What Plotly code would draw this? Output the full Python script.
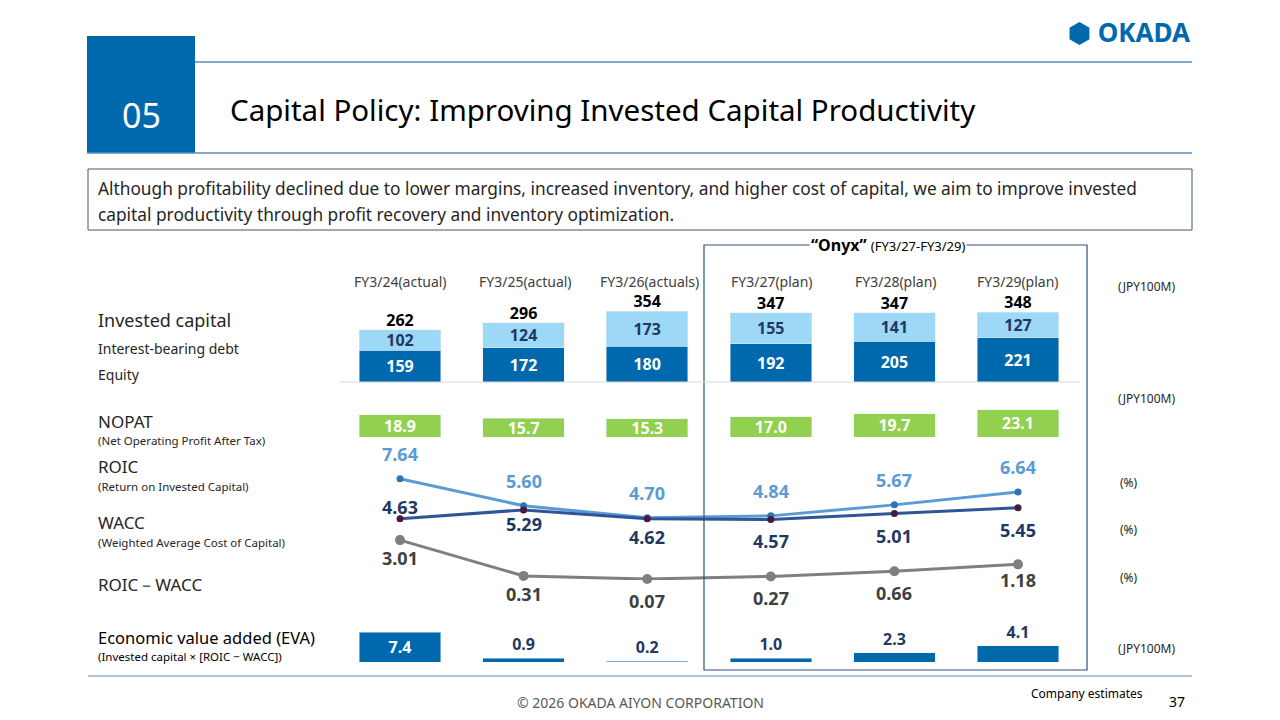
import plotly.graph_objects as go

years = ["FY3/24(actual)", "FY3/25(actual)", "FY3/26(actuals)", "FY3/27(plan)", "FY3/28(plan)", "FY3/29(plan)"]
equity = [159, 172, 180, 192, 205, 221]
debt = [102, 124, 173, 155, 141, 127]
invested = [262, 296, 354, 347, 347, 348]
nopat = [18.9, 15.7, 15.3, 17.0, 19.7, 23.1]
roic = [7.64, 5.60, 4.70, 4.84, 5.67, 6.64]
wacc = [4.63, 5.29, 4.62, 4.57, 5.01, 5.45]
spread = [3.01, 0.31, 0.07, 0.27, 0.66, 1.18]
eva = [7.4, 0.9, 0.2, 1.0, 2.3, 4.1]

W, H = 1280, 720
OFF = 8
FONT = "Noto Sans"
NAVY = "#1f3864"
BLUE = "#0068ad"
LIGHT = "#9dd9f7"
GREEN = "#92d050"
x = list(range(6))

def py(p):
    return 1 - (p - OFF) / H
def px(p):
    return (p - OFF) / W

fig = go.Figure()
bf = dict(size=16, family=FONT, weight="bold")
fig.add_bar(x=x, y=equity, marker_color=BLUE, width=0.66, text=[str(v) for v in equity],
            textposition="inside", insidetextanchor="middle", constraintext="none",
            textfont=dict(bf, color="white"), yaxis="y")
fig.add_bar(x=x, y=debt, marker_color=LIGHT, width=0.66, text=[str(v) for v in debt],
            textposition="inside", insidetextanchor="middle", constraintext="none",
            textfont=dict(bf, color=NAVY), yaxis="y")
fig.add_scatter(x=x, y=invested, mode="text", text=[str(v) for v in invested], textposition="top center",
                textfont=dict(bf, color="black"), yaxis="y", cliponaxis=False)
fig.add_bar(x=x, y=nopat, base=-7.2, marker_color=GREEN, width=0.66, text=[f"{v:.1f}" for v in nopat],
            textposition="inside", insidetextanchor="middle", constraintext="none",
            textfont=dict(bf, color="white"), yaxis="y2")
fig.add_scatter(x=x, y=spread, mode="lines+markers", line=dict(color="#7f7f7f", width=3),
                marker=dict(size=10, color="#7f7f7f"), yaxis="y3", cliponaxis=False)
fig.add_scatter(x=x, y=roic, mode="lines+markers", line=dict(color="#5b9bd5", width=3),
                marker=dict(size=7, color="#2e75b6"), yaxis="y3", cliponaxis=False)
fig.add_scatter(x=x, y=wacc, mode="lines+markers", line=dict(color="#2f5597", width=3),
                marker=dict(size=7, color="#4a1942"), yaxis="y3", cliponaxis=False)
fig.add_bar(x=x, y=eva, marker_color=BLUE, width=0.66, text=[f"{v:.1f}" for v in eva],
            textposition=["inside"] + ["outside"] * 5, insidetextanchor="middle", constraintext="none",
            textfont=dict(bf, color=["white"] + [NAVY] * 5),
            yaxis="y4", cliponaxis=False)

ax = dict(visible=False, fixedrange=True)
U = 123.6
xr = [-(400 - OFF) / U, (W - (400 - OFF)) / U]
fig.update_layout(
    width=W, height=H, margin=dict(l=0, r=0, t=0, b=0), showlegend=False, barmode="stack",
    plot_bgcolor="white", paper_bgcolor="white", font=dict(family=FONT),
    xaxis=dict(visible=False, range=xr, domain=[0, 1]),
    yaxis=dict(ax, domain=[py(382), py(302)], range=[0, 400]),
    yaxis2=dict(ax, domain=[py(437), py(397)], range=[-7.2, -7.2 + 40 / 1.19]),
    yaxis3=dict(ax, domain=[py(580), py(474)], range=[0, 8]),
    yaxis4=dict(ax, domain=[py(662), py(630)], range=[0, 8]),
)

def S(**k):
    k.setdefault("xref", "paper"); k.setdefault("yref", "paper")
    return k
shapes = [
    S(type="rect", x0=px(87), x1=px(195), y0=py(153), y1=py(36), fillcolor=BLUE, line_width=0),
    S(type="line", x0=px(195), x1=px(1192), y0=py(62), y1=py(62), line=dict(color="#5b8db8", width=1.5)),
    S(type="line", x0=px(87), x1=px(1192), y0=py(153), y1=py(153), line=dict(color="#5b8db8", width=1.5)),
    S(type="rect", x0=px(88), x1=px(1192), y0=py(230), y1=py(169), line=dict(color="#44546a", width=1)),
    S(type="rect", x0=px(704), x1=px(1087), y0=py(670), y1=py(245), line=dict(color="#2f4f7f", width=1.2)),
    S(type="line", x0=px(88), x1=px(1192), y0=py(676), y1=py(676), line=dict(color="#5b8db8", width=1.2)),
    S(type="line", x0=px(340), x1=px(1080), y0=py(382), y1=py(382), line=dict(color="#d9d9d9", width=1)),
]
fig.update_layout(shapes=shapes)

ann = []
def L(vals, color, shifts):
    for i, (v, s) in enumerate(zip(vals, shifts)):
        ann.append(dict(text=f"<b>{v:.2f}</b>", x=i, y=v, xref="x", yref="y3", showarrow=False,
                        yshift=s, font=dict(size=18, color=color, family=FONT)))
L(roic, "#5b9bd5", [25, 25, 25, 25, 25, 25])
L(wacc, NAVY, [12, -14, -18, -22, -22, -22])
L(spread, "#404040", [-18, -18, -22, -22, -22, -16])

def A(t, xp, yp, size=14, color="#262626", xanchor="left", bg=None):
    ann.append(dict(text=t, x=px(xp), y=py(yp), xref="paper", yref="paper", showarrow=False,
                    xanchor=xanchor, yanchor="middle", bgcolor=bg,
                    font=dict(size=size, color=color, family=FONT)))
A("05", 141, 115, 34, "white", "center")
A("Capital Policy: Improving Invested Capital Productivity", 228, 110, 29.5, "black")
A("Although profitability declined due to lower margins, increased inventory, and higher cost of capital, we aim to improve invested", 96, 188, 17.3, "#262626")
A("capital productivity through profit recovery and inventory optimization.", 96, 214, 17.3, "#262626")
A("<b>⬢ OKADA</b>", 1192, 32, 26, BLUE, "right")
A("<b>“Onyx”</b> <span style='font-size:13px'>(FY3/27-FY3/29)</span>", 888, 245, 16, "black", "center", bg="white")
cx = [400, 525, 649, 772, 896, 1018]
for c, yname in zip(cx, years):
    A(yname, c, 281, 14, "#404040", "center")
A("(JPY100M)", 1116, 287, 12)
A("(JPY100M)", 1116, 399, 12)
A("(%)", 1118, 482, 12)
A("(%)", 1118, 529, 12)
A("(%)", 1118, 577, 12)
A("(JPY100M)", 1116, 648, 12)
A("Invested capital", 96, 320, 18)
A("Interest-bearing debt", 96, 348, 14)
A("Equity", 96, 374, 14)
A("NOPAT", 96, 421, 17)
A("(Net Operating Profit After Tax)", 96, 440, 11.5)
A("ROIC", 96, 466, 17)
A("(Return on Invested Capital)", 96, 486, 11.5)
A("WACC", 96, 522, 17)
A("(Weighted Average Cost of Capital)", 96, 542, 11.5)
A("ROIC－WACC", 96, 584, 17)
A("Economic value added (EVA)", 96, 637, 16.5, "black")
A("(Invested capital × [ROIC − WACC])", 96, 656, 11.5, "black")
A("© 2026 OKADA AIYON CORPORATION", 640, 702, 14, "#595959", "center")
A("Company estimates", 1145, 693, 12, "black", "right")
A("37", 1167, 701, 14, "black")
fig.update_layout(annotations=ann)
fig.write_html("out.html")
